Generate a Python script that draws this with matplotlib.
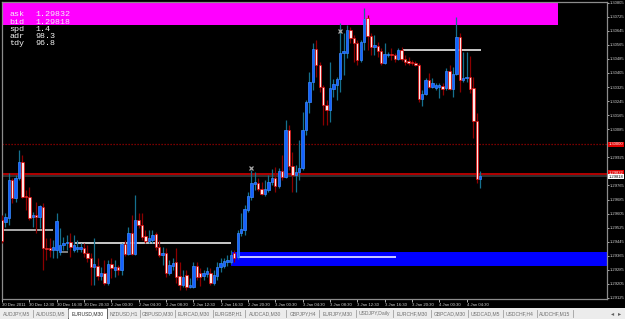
import numpy as np
import matplotlib.pyplot as plt
import matplotlib.transforms as mtransforms

W, H = 625, 319

# EURUSD M30 candles, 30 Dec 2011 08:30 onwards
opens = [1.29568, 1.29557, 1.29580, 1.29796, 1.29693, 1.29807, 1.29898, 1.29705, 1.29699, 1.29585,
         1.29597, 1.29585, 1.29642, 1.29409, 1.29409, 1.29397, 1.29397, 1.29386, 1.29426, 1.29437,
         1.29443, 1.29397, 1.29403, 1.29403, 1.29409, 1.29380, 1.29352, 1.29301, 1.29306, 1.29250,
         1.29267, 1.29210, 1.29318, 1.29284, 1.29301, 1.29284, 1.29432, 1.29375, 1.29494, 1.29375,
         1.29568, 1.29540, 1.29477, 1.29449, 1.29454, 1.29489, 1.29415, 1.29369, 1.29380, 1.29267,
         1.29306, 1.29329, 1.29250, 1.29198, 1.29255, 1.29187, 1.29187, 1.29306, 1.29267, 1.29250,
         1.29261, 1.29267, 1.29210, 1.29250, 1.29301, 1.29306, 1.29329, 1.29329, 1.29380, 1.29358,
         1.29494, 1.29511, 1.29625, 1.29699, 1.29773, 1.29779, 1.29745, 1.29716, 1.29739, 1.29784,
         1.29807, 1.29762, 1.29847, 1.29813, 1.30080, 1.29875, 1.29824, 1.29841, 1.29864, 1.30080,
         1.30240, 1.30353, 1.30541, 1.30450, 1.30325, 1.30223, 1.30194, 1.30314, 1.30336, 1.30370,
         1.30518, 1.30518, 1.30649, 1.30604, 1.30575, 1.30479, 1.30581, 1.30718, 1.30615, 1.30553,
         1.30558, 1.30530, 1.30462, 1.30507, 1.30513, 1.30507, 1.30484, 1.30535, 1.30484, 1.30473,
         1.30467, 1.30462, 1.30450, 1.30257, 1.30285, 1.30365, 1.30325, 1.30319, 1.30325, 1.30331,
         1.30319, 1.30416, 1.30314, 1.30399, 1.30609, 1.30365, 1.30376, 1.30382, 1.30319, 1.30132,
         1.29801]
highs = [1.29597, 1.29608, 1.29836, 1.29807, 1.29824, 1.29966, 1.29938, 1.29739, 1.29756, 1.29614,
         1.29671, 1.29654, 1.29665, 1.29466, 1.29466, 1.29454, 1.29608, 1.29523, 1.29471, 1.29483,
         1.29494, 1.29483, 1.29454, 1.29437, 1.29437, 1.29426, 1.29380, 1.29466, 1.29352, 1.29301,
         1.29341, 1.29341, 1.29352, 1.29341, 1.29312, 1.29437, 1.29454, 1.29528, 1.29597, 1.29710,
         1.29608, 1.29608, 1.29511, 1.29511, 1.29511, 1.29500, 1.29454, 1.29415, 1.29409, 1.29341,
         1.29352, 1.29409, 1.29329, 1.29284, 1.29284, 1.29238, 1.29329, 1.29329, 1.29295, 1.29284,
         1.29301, 1.29295, 1.29284, 1.29329, 1.29352, 1.29352, 1.29369, 1.29397, 1.29397, 1.29511,
         1.29608, 1.29654, 1.29728, 1.29853, 1.29841, 1.29807, 1.29784, 1.29796, 1.29824, 1.29858,
         1.29870, 1.29864, 1.29938, 1.30137, 1.30109, 1.29955, 1.29881, 1.30023, 1.30183, 1.30251,
         1.30410, 1.30575, 1.30592, 1.30467, 1.30336, 1.30251, 1.30467, 1.30370, 1.30382, 1.30689,
         1.30632, 1.30678, 1.30666, 1.30621, 1.30592, 1.30592, 1.30774, 1.30735, 1.30632, 1.30621,
         1.30581, 1.30547, 1.30575, 1.30524, 1.30547, 1.30518, 1.30547, 1.30553, 1.30507, 1.30496,
         1.30479, 1.30473, 1.30462, 1.30308, 1.30376, 1.30405, 1.30376, 1.30348, 1.30348, 1.30348,
         1.30433, 1.30450, 1.30439, 1.30723, 1.30632, 1.30524, 1.30524, 1.30501, 1.30382, 1.30177,
         1.29847]
lows = [1.29437, 1.29528, 1.29540, 1.29665, 1.29671, 1.29796, 1.29693, 1.29625, 1.29568, 1.29528,
        1.29494, 1.29523, 1.29284, 1.29341, 1.29358, 1.29352, 1.29352, 1.29369, 1.29397, 1.29397,
        1.29358, 1.29386, 1.29386, 1.29386, 1.29358, 1.29329, 1.29198, 1.29198, 1.29227, 1.29227,
        1.29198, 1.29198, 1.29238, 1.29244, 1.29255, 1.29255, 1.29363, 1.29369, 1.29369, 1.29369,
        1.29523, 1.29454, 1.29437, 1.29437, 1.29437, 1.29397, 1.29358, 1.29312, 1.29244, 1.29255,
        1.29284, 1.29210, 1.29170, 1.29187, 1.29170, 1.29181, 1.29181, 1.29227, 1.29193, 1.29227,
        1.29244, 1.29198, 1.29198, 1.29227, 1.29272, 1.29295, 1.29306, 1.29318, 1.29329, 1.29346,
        1.29477, 1.29483, 1.29614, 1.29682, 1.29739, 1.29733, 1.29710, 1.29705, 1.29728, 1.29767,
        1.29728, 1.29750, 1.29796, 1.29807, 1.29853, 1.29728, 1.29728, 1.29796, 1.29853, 1.30052,
        1.30177, 1.30308, 1.30382, 1.30297, 1.30109, 1.30109, 1.30126, 1.30268, 1.30251, 1.30297,
        1.30393, 1.30490, 1.30575, 1.30467, 1.30450, 1.30467, 1.30535, 1.30535, 1.30507, 1.30507,
        1.30496, 1.30450, 1.30456, 1.30496, 1.30479, 1.30467, 1.30479, 1.30473, 1.30450, 1.30450,
        1.30450, 1.30444, 1.30240, 1.30217, 1.30279, 1.30319, 1.30319, 1.30308, 1.30262, 1.30279,
        1.30308, 1.30308, 1.30268, 1.30393, 1.30297, 1.30353, 1.30353, 1.30291, 1.30035, 1.29779,
        1.29750]
closes = [1.29449, 1.29585, 1.29796, 1.29693, 1.29807, 1.29898, 1.29699, 1.29699, 1.29580, 1.29597,
          1.29585, 1.29648, 1.29409, 1.29403, 1.29397, 1.29415, 1.29563, 1.29426, 1.29437, 1.29443,
          1.29415, 1.29426, 1.29415, 1.29415, 1.29380, 1.29352, 1.29301, 1.29318, 1.29250, 1.29267,
          1.29210, 1.29318, 1.29295, 1.29301, 1.29284, 1.29432, 1.29375, 1.29494, 1.29375, 1.29568,
          1.29540, 1.29471, 1.29449, 1.29466, 1.29483, 1.29415, 1.29369, 1.29380, 1.29267, 1.29312,
          1.29324, 1.29244, 1.29198, 1.29244, 1.29187, 1.29198, 1.29306, 1.29244, 1.29244, 1.29267,
          1.29278, 1.29210, 1.29255, 1.29301, 1.29324, 1.29335, 1.29341, 1.29369, 1.29352, 1.29494,
          1.29517, 1.29631, 1.29705, 1.29779, 1.29784, 1.29745, 1.29716, 1.29745, 1.29784, 1.29807,
          1.29762, 1.29847, 1.29813, 1.30080, 1.29875, 1.29824, 1.29841, 1.29864, 1.30080, 1.30240,
          1.30353, 1.30541, 1.30450, 1.30325, 1.30223, 1.30194, 1.30319, 1.30342, 1.30370, 1.30518,
          1.30530, 1.30649, 1.30604, 1.30575, 1.30479, 1.30581, 1.30712, 1.30615, 1.30553, 1.30564,
          1.30530, 1.30462, 1.30513, 1.30513, 1.30507, 1.30484, 1.30535, 1.30484, 1.30467, 1.30462,
          1.30462, 1.30450, 1.30257, 1.30285, 1.30365, 1.30325, 1.30348, 1.30336, 1.30336, 1.30314,
          1.30416, 1.30314, 1.30399, 1.30609, 1.30365, 1.30376, 1.30382, 1.30314, 1.30132, 1.29801,
          1.29818]

ask, bid = 1.29832, 1.29818
round_level = 1.30000
spread, adr, today = "1.4", "98.3", "96.8"

# horizontal range lines: price, first bar, last bar
level_prices = [1.29511, 1.29389, 1.29437, 1.29358, 1.30535]
level_start = [0, 17.2, 21, 69, 117.2]
level_end = [14.9, 19.3, 66.9, 115.2, 140.3]
level_colors = ['#d8d8d8', '#a0a0a0', 'white', 'white', 'white']

# zones
magenta_zone = (1.30678, 1.30900, 162.8)   # low, high, right end bar
blue_zone = (1.29306, 1.29386, 66.9)       # low, high, start bar

star_bars = [73, 99]
star_prices = [1.29864, 1.30644]

price_ticks = [1.30805, 1.30725, 1.30645, 1.30565, 1.30485, 1.30405, 1.30325, 1.30245, 1.30165,
               1.30085, 1.29925, 1.29765, 1.29685, 1.29605, 1.29525, 1.29445,
               1.29365, 1.29285, 1.29205, 1.29125]
date_labels = ["30 Dec 2011", "30 Dec 12:30", "30 Dec 16:30", "30 Dec 20:30", "2 Jan 00:30",
               "2 Jan 04:30", "2 Jan 08:30", "2 Jan 12:30", "2 Jan 16:30", "2 Jan 20:30",
               "3 Jan 00:30", "3 Jan 04:30", "3 Jan 08:30", "3 Jan 12:30", "3 Jan 16:30",
               "3 Jan 20:30", "4 Jan 00:30", "4 Jan 04:30"]

tabs = ["AUDJPY,M5", "AUDUSD,M5", "EURUSD,M30", "NZDUSD,H1", "GBPUSD,M30", "EURCAD,M30",
        "EURGBP,H1", "AUDCAD,M30", "GBPJPY,H4", "EURJPY,M30", "USDJPY,Daily", "EURCHF,M30",
        "GBPCAD,M30", "USDCAD,M5", "USDCHF,H4", "AUDCHF,M15"]
tab_edges = [0, 33, 68, 107, 140, 175, 213, 245, 286, 319, 356, 393, 431, 468, 503, 537, 573]
active_tab = 2

small = 'Liberation Sans'

fig = plt.figure(figsize=(W / 100, H / 100), dpi=100, facecolor='black')
ax = fig.add_axes([2 / W, 1 - 299 / H, 605 / W, 297 / H], facecolor='black')

o = np.array(opens); h = np.array(highs); l = np.array(lows); c = np.array(closes)
x = np.arange(len(o))
up = c >= o
ax.set_xlim(0.29, 177.1)
ax.set_ylim(1.29119, 1.30809)

# zones
ax.fill_between([0.29, magenta_zone[2]], magenta_zone[0], magenta_zone[1], color='#ff00ff', lw=0, zorder=1)
ax.fill_between([blue_zone[2], 177.1], blue_zone[0], blue_zone[1], color='#0000ff', lw=0, zorder=1)

for p, s, e, col in zip(level_prices, level_start, level_end, level_colors):
    ax.plot([s, e], [p, p], color=col, lw=1.1, zorder=2, solid_capstyle='butt')

ax.axhline(round_level, color='#a00000', lw=0.9, ls=(0, (1, 1.4)), zorder=2)
ax.axhline(ask, color='#d00000', lw=1.2, zorder=2)
ax.axhline(bid, color='#3a3a3a', lw=1.2, zorder=2)

# candles
ax.vlines(x[up], l[up], h[up], color='#15708f', lw=0.9, zorder=3)
ax.vlines(x[~up], l[~up], h[~up], color='#8c0000', lw=0.9, zorder=3)
bh = np.maximum(np.abs(c - o), 0.00002)
bl = np.minimum(o, c)
ax.bar(x[up], bh[up], bottom=bl[up], width=0.7, color='#1560ff', edgecolor='#3a8cff', lw=0.5, zorder=4)
ax.bar(x[~up], bh[~up], bottom=bl[~up], width=0.7, color='#ffe6e6', edgecolor='#e00000', lw=0.5, zorder=4)

ax.plot(star_bars, star_prices, ls='none', marker='x', ms=3.5, mew=0.9, color='#a8a8a8', zorder=5)

# axes styling
for sp in ax.spines.values():
    sp.set_color('#8c8c8c')
    sp.set_linewidth(0.9)
ax.yaxis.tick_right()
ax.set_yticks(price_ticks)
ax.set_yticklabels([f"{v:.5f}" for v in price_ticks], family=small)
ax.tick_params(axis='y', colors='#d0d0d0', labelsize=3.0, length=1.5, width=0.6, pad=0.6)
ax.set_xticks(np.arange(0, 8 * len(date_labels), 8))
ax.set_xticklabels(date_labels, ha='left', family=small)
ax.tick_params(axis='x', colors='#d0d0d0', labelsize=3.1, length=2, width=0.6, pad=1.2)

tr = mtransforms.blended_transform_factory(ax.transAxes, ax.transData)
for val, fc, tc, dy in [(round_level, '#e00000', 'white', 0), (ask, '#e00000', 'white', 0.00004),
                        (bid, 'white', 'black', -0.00002)]:
    ax.text(1.0025, val + dy, f"{val:.5f}", transform=tr, fontsize=3.0, family=small, color=tc,
            va='center', ha='left', clip_on=False, zorder=6, bbox=dict(fc=fc, ec='none', pad=0.4))

# info panel
info = [("ask", f"{ask:.5f}", 14.3), ("bid", f"{bid:.5f}", 22), ("spd", spread, 29.3),
        ("adr", adr, 36.7), ("tdy", today, 43.7)]
for lab, val, yy in info:
    fig.text(9 / W, 1 - yy / H, lab, fontsize=6, family='Liberation Mono', color='#f4f4f4', va='center')
    fig.text(35 / W, 1 - yy / H, val, fontsize=6, family='Liberation Mono', color='#f4f4f4', va='center')

# tab strip
tax = fig.add_axes([0, 0, 1, 11 / H], facecolor='#ececec')
tax.set_xlim(0, W); tax.set_ylim(0, 11)
tax.axis('off')
tax.add_patch(plt.Rectangle((0, 0), W, 11, fc='#ececec', ec='none'))
for i, name in enumerate(tabs):
    x0, x1 = tab_edges[i], tab_edges[i + 1]
    if i == active_tab:
        tax.add_patch(plt.Rectangle((x0, 0.5), x1 - x0, 10.5, fc='white', ec='#606060', lw=0.7))
    else:
        tax.plot([x1, x1], [2, 9], color='#a0a0a0', lw=0.6)
    tax.text((x0 + x1) / 2, 5.5, name, fontsize=3.6, family=small,
             color='#303030' if i == active_tab else '#707070', ha='center', va='center')
tax.text(613, 5.5, "\u25c2", fontsize=4.5, color='#606060', ha='center', va='center')
tax.text(620, 5.5, "\u25b8", fontsize=4.5, color='#606060', ha='center', va='center')

fig.savefig("out.png", dpi=100, facecolor='black')
